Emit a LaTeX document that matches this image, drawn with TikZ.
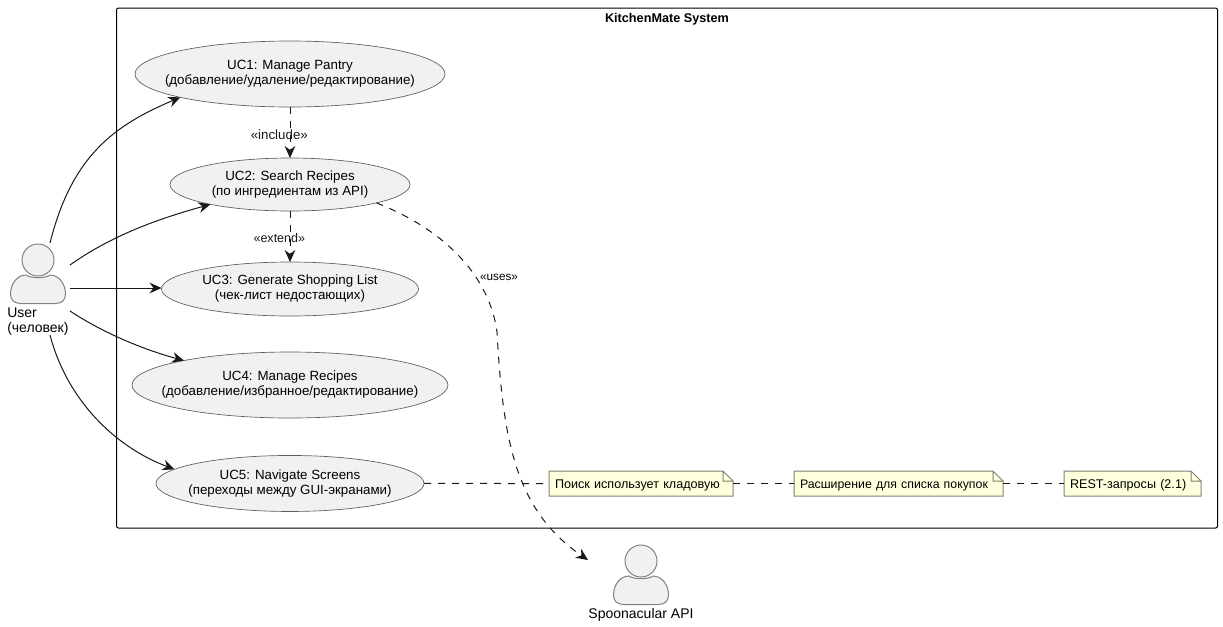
\documentclass[tikz,border=0pt]{standalone}
\usepackage{fontspec}
\setmainfont{Liberation Sans}
\usepackage{xcolor}
\usetikzlibrary{positioning,shapes.geometric,arrows.meta}
\definecolor{ucfill}{HTML}{F1F1F1}
\definecolor{ucline}{HTML}{181818}
\definecolor{notefill}{HTML}{FEFFDD}
\definecolor{noteline}{HTML}{808070}

\begin{document}
\begin{tikzpicture}[x=0.75pt,y=-0.75pt]
\tikzstyle{usecase}=[ellipse, inner sep=-30pt, outer sep=0pt, fill=ucfill, draw=ucline!70, line width=0.5pt, align=center, font=\fontsize{10}{11.25}\selectfont]
\tikzstyle{connect}=[-{Stealth[length=9pt,width=8pt,inset=3pt]}, ucline, line width=0.75pt]
\tikzstyle{connectdash}=[connect, dash pattern=on 5.25pt off 5.25pt]
\tikzstyle{linkdash}=[ucline, line width=0.75pt, dash pattern=on 5.25pt off 5.25pt]
\tikzstyle{stereo}=[inner sep=0pt, font=\fontsize{10}{12}\selectfont]
\tikzstyle{actorlabel}=[inner sep=0pt, align=left, font=\fontsize{10.5}{11.25}\selectfont]
\tikzstyle{note}=[rectangle, inner xsep=4.5pt, inner ysep=0pt, outer sep=0pt, minimum height=18.75pt, text height=7pt, text depth=0pt, align=left, fill=notefill, font=\fontsize{9.45}{12}\selectfont]
\tikzset{person/.pic={
  \path[fill=ucfill, draw=black!50, line width=0.75pt] (0,0) circle (12pt);
  \path[fill=ucfill, draw=black!50, line width=0.75pt]
    (-17,43.5) .. controls (-24,43.5) and (-27.5,40) .. (-27.5,34)
    .. controls (-27.5,24) and (-21,15) .. (-12,15)
    .. controls (-8,18.5) and (8,18.5) .. (12,15)
    .. controls (21,15) and (27.5,24) .. (27.5,34)
    .. controls (27.5,40) and (24,43.5) .. (17,43.5) -- cycle;
}}
  \useasboundingbox (0,0) rectangle (1223,626);
  % system frame
  \node[draw=black, line width=0.75pt, rounded corners=1.5pt, minimum width=825.75pt, minimum height=390pt, inner sep=0pt] (system) at (667,268) {};
  \node[inner sep=0pt, font=\bfseries\fontsize{9.5}{12}\selectfont] (systitle) at (667,19) {KitchenMate System};
  % use cases
  \node[usecase, minimum width=232.5pt, minimum height=49.5pt] (uc1) at (290,74) {UC1: Manage Pantry\\(добавление/удаление/редактирование)};
  \node[usecase, minimum width=180pt, minimum height=39.75pt] (uc2) [below=38.25pt of uc1] {UC2: Search Recipes\\(по ингредиентам из API)};
  \node[usecase, minimum width=192.75pt, minimum height=40.5pt] (uc3) [below=38.25pt of uc2] {UC3: Generate Shopping List\\(чек-лист недостающих)};
  \node[usecase, minimum width=237pt, minimum height=49.5pt] (uc4) [below=27pt of uc3] {UC4: Manage Recipes\\(добавление/избранное/редактирование)};
  \node[usecase, minimum width=201pt, minimum height=42pt] (uc5) [below=28.1pt of uc4] {UC5: Navigate Screens\\(переходы между GUI-экранами)};
  % notes
  \node[note, text width=129pt] (note1) at (641,483.5) {Поиск использует кладовую};
  \node[note, text width=147.75pt, font=\fontsize{9.25}{12}\selectfont] (note2) [right=45.75pt of note1] {Расширение для списка покупок};
  \node[note, text width=93.75pt] (note3) [right=45.75pt of note2] {REST-запросы (2.1)};
  \foreach \n in {note1,note2,note3} {
    \fill[white] ([xshift=-7.5pt]\n.north east) -- (\n.north east) -- ([yshift=-7.5pt]\n.north east) -- cycle;
    \draw[noteline, line width=0.75pt] (\n.north west) -- ([xshift=-7.5pt]\n.north east) -- ([yshift=-7.5pt]\n.north east) -- (\n.south east) -- (\n.south west) -- cycle
      ([xshift=-7.5pt]\n.north east) |- ([yshift=-7.5pt]\n.north east);
  }
  % actors
  \pic (user) at (38,260) {person};
  \node[actorlabel, anchor=north west] (userlabel) at (7,307.5) {User\\(человек)};
  \pic (api) at (641,561) {person};
  \node[actorlabel] (apilabel) at (641,615) {Spoonacular API};
  \coordinate (usera) at (50,243);
  \coordinate (userb) at (70,265);
  \coordinate (userc) at (70,288);
  \coordinate (userd) at (70,311);
  \coordinate (usere) at (50,335);
  \coordinate (apiin) at (588,560);
  % connectors
  \draw[connect] (usera) .. controls (72,155) and (115,125) .. (uc1.192);
  \draw[connect] (userb) .. controls (115,233) and (165,217) .. (uc2.194);
  \draw[connect] (userc) -- (uc3.west |- userc);
  \draw[connect] (userd) .. controls (105,334) and (145,350) .. (uc4.167);
  \draw[connect] (usere) .. controls (67,400) and (115,447) .. (uc5.173);
  \path (uc1) edge [connectdash] node[stereo, xshift=-8pt, yshift=-2pt] (inclabel) {«include»} (uc2)
        (uc2) edge [connectdash] node[stereo, xshift=-8pt, yshift=-1pt, font=\fontsize{9.4}{12}\selectfont] (extlabel) {«extend»} (uc3);
  \draw[connectdash] (uc2.348) .. controls (450,232) and (490,280) .. (497,332)
     .. controls (503,440) and (515,510) .. (apiin);
  \node[stereo, font=\fontsize{8.8}{12}\selectfont] (useslabel) at (499,277) {«uses»};
  \path (uc5) edge [linkdash] (note1)
        (note1) edge [linkdash] (note2)
        (note2) edge [linkdash] (note3);
\end{tikzpicture}
\end{document}
